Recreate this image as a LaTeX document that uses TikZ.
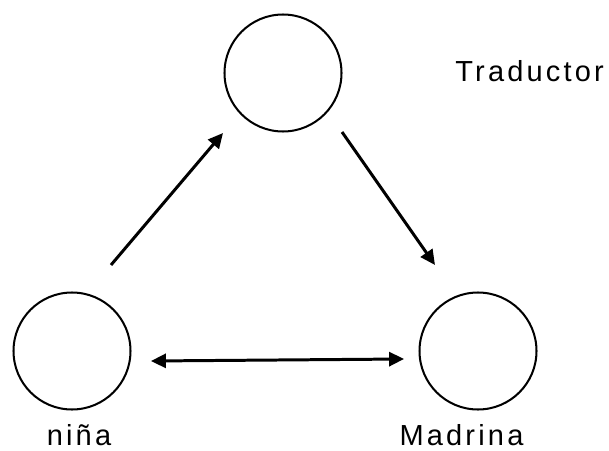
\documentclass[tikz,border=0pt]{standalone}
\usepackage{fontspec}
\setmainfont{Liberation Sans}[LetterSpace=11]
\usetikzlibrary{arrows.meta}

\begin{document}
\begin{tikzpicture}[
  role/.style={draw, circle, line width=1.15pt, minimum size=2.34cm, inner sep=0pt},
  link/.style={line width=1.7pt, -{Triangle[length=8.5pt,width=8pt]}},
  every node/.append style={font=\fontsize{16.5}{20}\selectfont}]
\useasboundingbox (0,0) rectangle (12.18,9);

\node[role] (traductor) at (5.66,7.54) {};
\node[role] (nina) at (1.44,1.98) {};
\node[role] (madrina) at (9.56,1.98) {};

\node[anchor=base west, inner sep=0pt] (traductorlabel) at (9.1,7.36) {Traductor};
\node[anchor=base, inner sep=0pt] (ninalabel) at (1.58,0.1) {niña};
\node[anchor=base, inner sep=0pt] (madrinalabel) at (9.23,0.1) {Madrina};

% arrow ends
\coordinate (ninaout) at (2.22,3.70);
\coordinate (traductorin) at (4.46,6.34);
\coordinate (traductorout) at (6.84,6.36);
\coordinate (madrinain) at (8.70,3.70);
\coordinate (ninaside) at (3.02,1.78);
\coordinate (madrinaside) at (8.08,1.82);

\draw[link] (ninaout) -- (traductorin);
\draw[link] (traductorout) -- (madrinain);
\draw[link, {Triangle[length=8.5pt,width=8pt]}-{Triangle[length=8.5pt,width=8pt]}] (ninaside) -- (madrinaside);
\end{tikzpicture}
\end{document}
